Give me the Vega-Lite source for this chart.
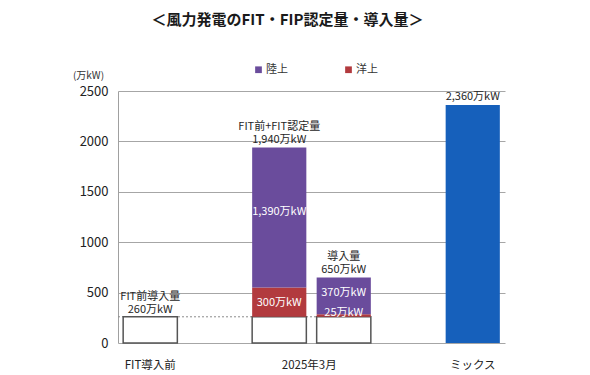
{
  "$schema": "https://vega.github.io/schema/vega-lite/v6.json",
  "width": 387,
  "height": 252,
  "autosize": {"type": "none"},
  "padding": {"left": 118, "top": 91, "right": 85, "bottom": 32},
  "background": "#ffffff",
  "config": {
    "font": "Noto Sans CJK JP",
    "view": {"stroke": null}
  },
  "title": {
    "text": "＜風力発電のFIT・FIP認定量・導入量＞",
    "fontSize": 15,
    "fontWeight": "bold",
    "color": "#1a1a1a",
    "anchor": "middle",
    "dx": -24,
    "offset": 36
  },
  "datasets": {
    "bars": [
      {"slot": "s0", "part": "FIT前", "ord": 1, "value": 260},
      {"slot": "s2", "part": "FIT前", "ord": 1, "value": 260},
      {"slot": "s2", "part": "洋上", "ord": 2, "value": 290},
      {"slot": "s2", "part": "陸上", "ord": 3, "value": 1390},
      {"slot": "s3", "part": "FIT前", "ord": 1, "value": 260},
      {"slot": "s3", "part": "洋上", "ord": 2, "value": 25},
      {"slot": "s3", "part": "陸上", "ord": 3, "value": 365},
      {"slot": "s5", "part": "ミックス", "ord": 1, "value": 2360}
    ],
    "above2": [
      {"slot": "s0", "at": 260, "label": ["FIT前導入量", "260万kW"]},
      {"slot": "s2", "at": 1940, "label": ["FIT前+FIT認定量", "1,940万kW"]},
      {"slot": "s3", "at": 650, "label": ["導入量", "650万kW"]}
    ],
    "above1": [
      {"slot": "s5", "at": 2360, "label": "2,360万kW"}
    ],
    "inside": [
      {"slot": "s2", "at": 1300, "label": "1,390万kW"},
      {"slot": "s2", "at": 400, "label": "300万kW"},
      {"slot": "s3", "at": 495, "label": "370万kW"},
      {"slot": "s3", "at": 298, "label": "25万kW"}
    ],
    "ref": [
      {"from": "s0", "to": "s3", "at": 260}
    ]
  },
  "encoding": {
    "x": {
      "field": "slot",
      "type": "nominal",
      "scale": {"domain": ["s0", "s1", "s2", "s3", "s4", "s5"], "paddingInner": 0.16, "paddingOuter": 0.08},
      "axis": {
        "title": null,
        "ticks": false,
        "domain": false,
        "grid": false,
        "labelAngle": 0,
        "labelFontSize": 11.5,
        "labelColor": "#222222",
        "labelPadding": 16,
        "labelExpr": "datum.value === 's0' ? 'FIT導入前' : datum.value === 's2' ? '2025年3月' : datum.value === 's5' ? 'ミックス' : ''",
        "labelOffset": {"condition": {"test": "datum.value === 's2'", "value": 30}, "value": 0}
      }
    }
  },
  "layer": [
    {
      "data": {"name": "ref"},
      "mark": {"type": "rule", "strokeDash": [2, 2], "color": "#8c8c8c", "strokeWidth": 1},
      "encoding": {
        "x": {"field": "from", "type": "nominal", "bandPosition": -0.095},
        "x2": {"field": "to", "bandPosition": 1},
        "y": {"field": "at", "type": "quantitative"}
      }
    },
    {
      "data": {"name": "bars"},
      "mark": {"type": "bar", "strokeWidth": 1.5},
      "encoding": {
        "y": {
          "field": "value",
          "type": "quantitative",
          "stack": "zero",
          "scale": {"domain": [0, 2500], "nice": false},
          "axis": {
            "title": "(万kW)",
            "titleAngle": 0,
            "titleAlign": "center",
            "titleBaseline": "middle",
            "titleX": -30,
            "titleY": -16,
            "titleFontSize": 10,
            "titleFontWeight": "normal",
            "titleColor": "#333333",
            "values": [0, 500, 1000, 1500, 2000, 2500],
            "format": "d",
            "ticks": false,
            "domain": true,
            "domainColor": "#a0a0a0",
            "grid": true,
            "gridColor": "#a6a6a6",
            "labelFontSize": 13,
            "labelColor": "#222222",
            "labelPadding": 10
          }
        },
        "order": {"field": "ord", "type": "quantitative"},
        "color": {
          "field": "part",
          "type": "nominal",
          "scale": {
            "domain": ["FIT前", "洋上", "陸上", "ミックス"],
            "range": ["#ffffff", "#B23A3E", "#6A4C9C", "#1660BB"]
          },
          "legend": {
            "values": ["陸上", "洋上"],
            "title": null,
            "orient": "none",
            "legendX": 135,
            "legendY": -27,
            "direction": "horizontal",
            "columns": 2,
            "columnPadding": 55,
            "symbolType": "square",
            "symbolSize": 45,
            "symbolStrokeWidth": 0,
            "labelFontSize": 11,
            "labelColor": "#333333",
            "labelOffset": 2
          }
        },
        "stroke": {
          "condition": {"test": "datum.part === 'FIT前'", "value": "#555555"},
          "value": null
        }
      }
    },
    {
      "data": {"name": "above2"},
      "mark": {"type": "text", "baseline": "bottom", "dy": -15, "fontSize": 11, "color": "#262626", "lineHeight": 13},
      "encoding": {
        "y": {"field": "at", "type": "quantitative"},
        "text": {"field": "label"}
      }
    },
    {
      "data": {"name": "above1"},
      "mark": {"type": "text", "baseline": "bottom", "dy": -3, "fontSize": 11, "color": "#262626"},
      "encoding": {
        "y": {"field": "at", "type": "quantitative"},
        "text": {"field": "label"}
      }
    },
    {
      "data": {"name": "inside"},
      "mark": {"type": "text", "baseline": "middle", "fontSize": 11, "color": "#ffffff"},
      "encoding": {
        "y": {"field": "at", "type": "quantitative"},
        "text": {"field": "label"}
      }
    }
  ]
}
